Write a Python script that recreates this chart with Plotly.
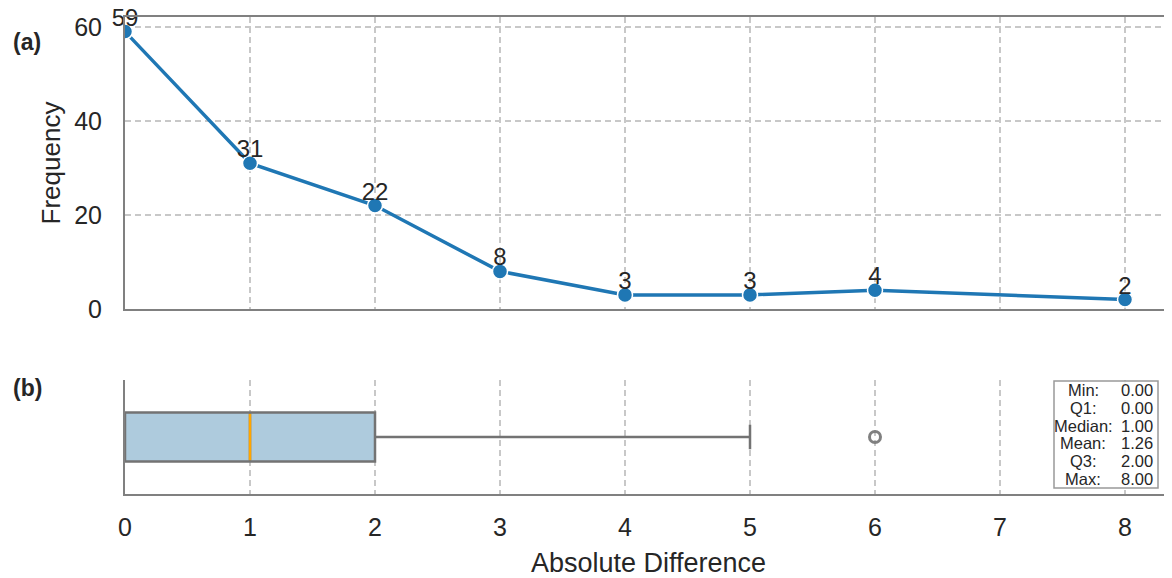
import plotly.graph_objects as go

# ---- data ----
diff_values = [0, 1, 2, 3, 4, 5, 6, 8]
frequencies = [59, 31, 22, 8, 3, 3, 4, 2]

box_q1 = 0
box_median = 1
box_q3 = 2
box_lower = 0
box_upper = 5
box_outliers = [6]

stat_names = ["Min:", "Q1:", "Median:", "Mean:", "Q3:", "Max:"]
stat_values = ["0.00", "0.00", "1.00", "1.26", "2.00", "8.00"]

# ---- layout constants (reference pixels, page has an 8px body margin) ----
OFF = 8
W, H = 1172 - OFF, 578 - OFF
ML, MR, MT, MB = 125 - OFF, 0, 17 - OFF, 578 - 494
PW, PH = W - ML - MR, H - MT - MB


def px_x(px):
    return (px - OFF - ML) / PW


def px_y(py):
    return (H - MB - (py - OFF)) / PH


FONT = "Liberation Sans, Arial, sans-serif"
TXT = "#262626"
SPINE = "#808080"
GRID = "#c8c8c8"
BLUE = "#1f77b4"
XMAX = (1172 - 125) / 125.0

fig = go.Figure()

# top panel: frequency line
fig.add_trace(go.Scatter(
    x=diff_values, y=frequencies, mode="lines+markers",
    line=dict(color=BLUE, width=3.5),
    marker=dict(size=15, color=BLUE, line=dict(color="white", width=1.5)),
    xaxis="x2", yaxis="y2", hoverinfo="skip", showlegend=False,
))
fig.add_trace(go.Scatter(
    x=diff_values, y=frequencies, mode="text",
    text=[str(v) for v in frequencies], textposition="top center",
    textfont=dict(size=24, color=TXT, family=FONT),
    xaxis="x2", yaxis="y2", cliponaxis=False, hoverinfo="skip", showlegend=False,
))

# bottom panel: box plot
box_w = 0.43
fig.add_trace(go.Box(
    y=[0], q1=[box_q1], median=[box_median], q3=[box_q3],
    lowerfence=[box_lower], upperfence=[box_upper],
    orientation="h", width=box_w, whiskerwidth=0.5,
    fillcolor="#aecbdd", line=dict(color="#737373", width=2.5),
    boxpoints=False, hoverinfo="skip", showlegend=False,
    xaxis="x", yaxis="y",
))
fig.add_trace(go.Scatter(
    x=[box_median, box_median], y=[-box_w / 2 + 0.012, box_w / 2 - 0.012],
    mode="lines", line=dict(color="#ffa500", width=2.5),
    xaxis="x", yaxis="y", hoverinfo="skip", showlegend=False,
))
fig.add_trace(go.Scatter(
    x=box_outliers, y=[0] * len(box_outliers), mode="markers",
    marker=dict(symbol="circle-open", size=11, color="#808080", line=dict(width=3)),
    xaxis="x", yaxis="y", hoverinfo="skip", showlegend=False,
))

top_dom = [px_y(309), 1.0]
bot_dom = [0.0, px_y(380)]

axis_common = dict(
    range=[0, XMAX], showline=True, linecolor=SPINE, linewidth=2,
    showgrid=True, gridcolor=GRID, griddash="6px,4px", gridwidth=1.5,
    zeroline=False, tickvals=list(range(0, 9)),
)

fig.update_layout(
    width=W, height=H,
    margin=dict(l=ML, r=MR, t=MT, b=MB),
    paper_bgcolor="white", plot_bgcolor="white",
    font=dict(family=FONT, color=TXT),
    xaxis=dict(
        **axis_common, domain=[0, 1], anchor="y",
        ticks="", ticklabelstandoff=10, tickfont=dict(size=25, color=TXT, family=FONT),
        title=dict(text="Absolute Difference", font=dict(size=27, color=TXT, family=FONT), standoff=14),
    ),
    yaxis=dict(
        domain=bot_dom, anchor="x", range=[-0.5, 0.5],
        showline=True, linecolor=SPINE, linewidth=2,
        showgrid=False, zeroline=False, showticklabels=False, ticks="",
    ),
    xaxis2=dict(
        **axis_common, domain=[0, 1], anchor="y2", matches="x",
        mirror=True, showticklabels=False, ticks="",
    ),
    yaxis2=dict(
        domain=top_dom, anchor="x2", range=[0, 62.1],
        tickvals=[0, 20, 40, 60],
        showline=True, linecolor=SPINE, linewidth=2,
        showgrid=True, gridcolor=GRID, griddash="6px,4px", gridwidth=1.5,
        zeroline=False, ticks="", ticklabelstandoff=16,
        tickfont=dict(size=25, color=TXT, family=FONT),
        title=dict(text="Frequency", font=dict(size=26, color=TXT, family=FONT), standoff=6),
    ),
)

# panel labels
fig.add_annotation(text="<b>(a)</b>", x=px_x(27), y=px_y(42), xref="paper", yref="paper",
                   showarrow=False, xanchor="center", yanchor="middle",
                   font=dict(size=23, color=TXT, family=FONT))
fig.add_annotation(text="<b>(b)</b>", x=px_x(27), y=px_y(388), xref="paper", yref="paper",
                   showarrow=False, xanchor="center", yanchor="middle",
                   font=dict(size=23, color=TXT, family=FONT))

# stats box
fig.add_shape(type="rect", xref="paper", yref="paper",
              x0=px_x(1054), x1=px_x(1158), y0=px_y(488), y1=px_y(381),
              line=dict(color="#999999", width=1.5), fillcolor="rgba(255,255,255,0.85)", layer="above")
for i, (nm, val) in enumerate(zip(stat_names, stat_values)):
    cy = 390 + i * 17.8
    fig.add_annotation(text=nm, x=px_x(1083), y=px_y(cy), xref="paper", yref="paper",
                       showarrow=False, xanchor="center", yanchor="middle",
                       font=dict(size=16.5, color=TXT, family=FONT))
    fig.add_annotation(text=val, x=px_x(1155), y=px_y(cy), xref="paper", yref="paper",
                       showarrow=False, xanchor="right", yanchor="middle",
                       font=dict(size=16.5, color=TXT, family=FONT))

fig.write_html("out.html")
